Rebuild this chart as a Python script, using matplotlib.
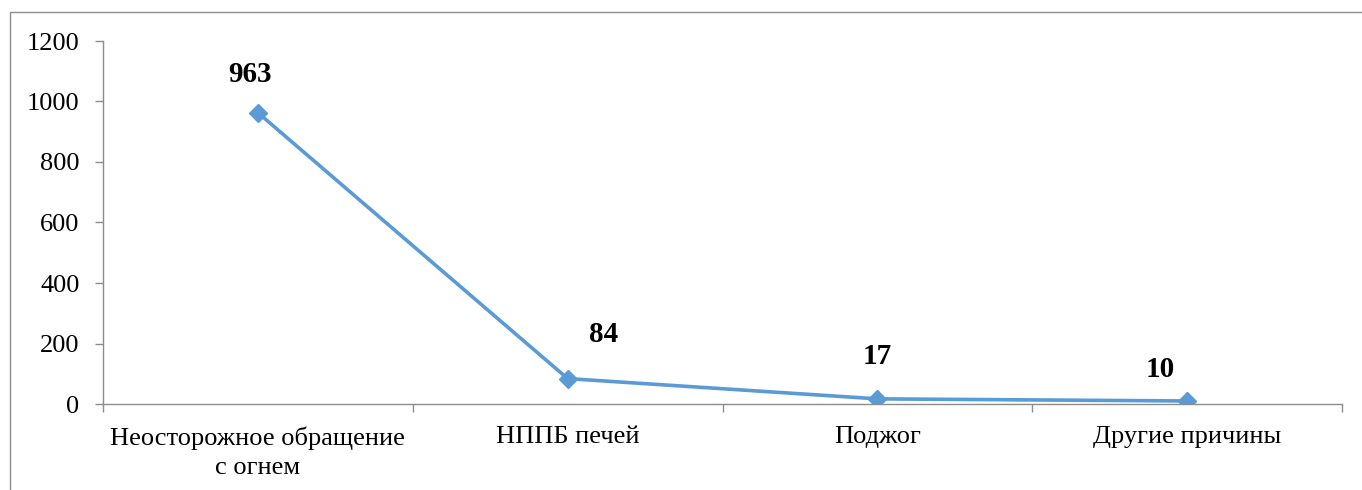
import matplotlib.pyplot as plt
from matplotlib.patches import Rectangle

# причины пожаров
categories = ['Неосторожное обращение\nс огнем', 'НППБ печей', 'Поджог', 'Другие причины']
values = [963, 84, 17, 10]
value_labels = ['963', '84', '17', '10']
yticks = [0, 200, 400, 600, 800, 1000, 1200]

# label offsets in points (hand placed like the original)
label_offsets = [(-6, 18), (26, 22), (0, 21), (-19, 13)]

plt.rcParams['font.family'] = 'serif'
plt.rcParams['font.serif'] = ['Liberation Serif', 'DejaVu Serif']

fig = plt.figure(figsize=(13.62, 4.90), dpi=100)
ax = fig.add_axes([103 / 1362, 1 - 404 / 490, (1342 - 103) / 1362, (404 - 41) / 490])

# outer chart border
fig.patches.append(Rectangle((10 / 1362, -0.1), 1.2, 1.1 - 12 / 490, transform=fig.transFigure,
                             fill=False, edgecolor='#8c8c8c', linewidth=1.0))

x = list(range(len(categories)))
ax.plot(x, values, color='#5B9BD5', linewidth=2.6, marker='D', markersize=9,
        markerfacecolor='#5B9BD5', markeredgecolor='#5B9BD5')

for xi, v, lab, off in zip(x, values, value_labels, label_offsets):
    ax.annotate(lab, (xi, v), xytext=off, textcoords='offset points',
                ha='center', va='bottom', fontsize=21, fontweight='bold')

ax.set_xlim(-0.5, len(categories) - 0.5)
ax.set_ylim(0, 1200)
ax.set_yticks(yticks)
ax.set_yticklabels([str(t) for t in yticks], fontsize=19)

ax.set_xticks(x)
ax.set_xticklabels(categories, fontsize=19)
for t in ax.get_xticklabels():
    t.set_linespacing(1.45)
ax.set_xticks([i - 0.5 for i in range(len(categories) + 1)], minor=True)
ax.tick_params(axis='x', which='major', length=0, pad=16)
ax.tick_params(axis='x', which='minor', length=6, color='#8c8c8c', width=1)
ax.tick_params(axis='y', length=6, color='#8c8c8c', width=1, pad=11)

for s in ['top', 'right']:
    ax.spines[s].set_visible(False)
for s in ['left', 'bottom']:
    ax.spines[s].set_color('#8c8c8c')
    ax.spines[s].set_linewidth(1)

fig.savefig('out.png', dpi=100)
